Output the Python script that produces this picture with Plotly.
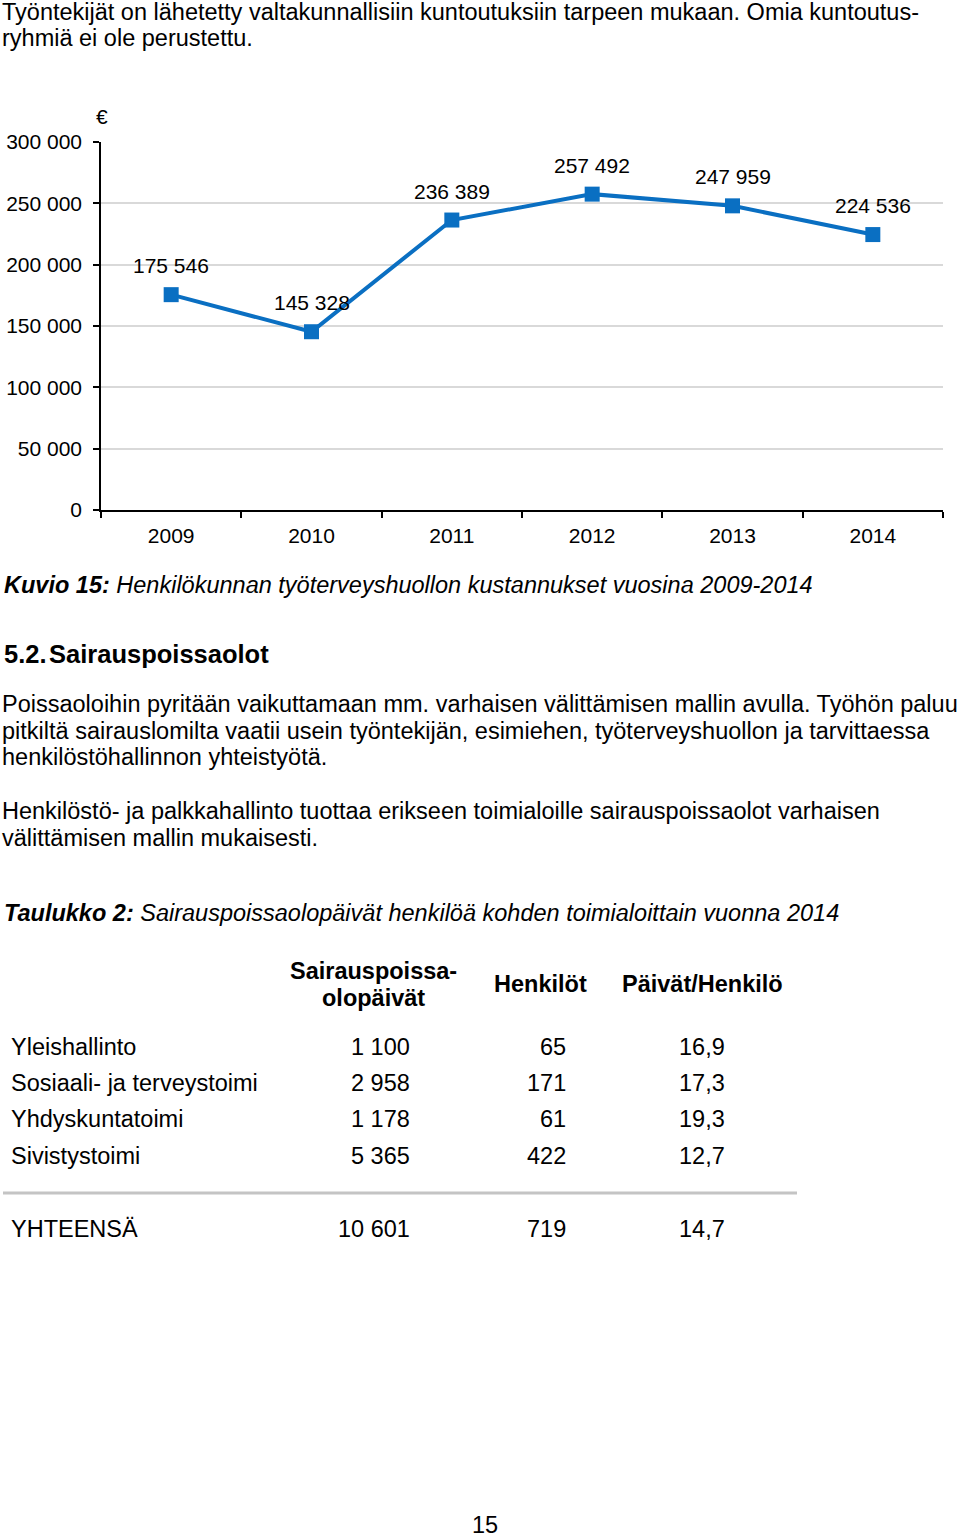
import plotly.graph_objects as go

# ---- data ----
years = ["2009", "2010", "2011", "2012", "2013", "2014"]
costs = [175546, 145328, 236389, 257492, 247959, 224536]
cost_labels = ["175 546", "145 328", "236 389", "257 492", "247 959", "224 536"]

table_rows = ["Yleishallinto", "Sosiaali- ja terveystoimi", "Yhdyskuntatoimi", "Sivistystoimi"]
table_days = ["1 100", "2 958", "1 178", "5 365"]
table_persons = ["65", "171", "61", "422"]
table_ratio = ["16,9", "17,3", "19,3", "12,7"]
total_label = "YHTEENSÄ"
total_days = "10 601"
total_persons = "719"
total_ratio = "14,7"

W, H = 960, 1538
FONT = "Liberation Sans, Arial, sans-serif"
BLUE = "#0a6fc2"
BODY = 23.5
CH = 21


def px(x, y):
    return x / W, 1 - y / H


fig = go.Figure()
fig.add_trace(go.Scatter(
    x=years, y=costs, mode="lines+markers",
    line=dict(color=BLUE, width=4),
    marker=dict(symbol="square", size=15, color=BLUE),
    hoverinfo="skip", showlegend=False,
))

annotations = []
for i, (v, lab) in enumerate(zip(costs, cost_labels)):
    annotations.append(dict(x=i, y=v, xref="x", yref="y", text=lab, showarrow=False,
                            yshift=29, font=dict(size=CH, color="black", family=FONT)))


def text(x, y, s, size=BODY, anchor="left", bold=False, italic=False):
    fx, fy = px(x, y)
    if bold:
        s = "<b>" + s + "</b>"
    if italic:
        s = "<i>" + s + "</i>"
    annotations.append(dict(x=fx, y=fy, xref="paper", yref="paper", text=s, showarrow=False,
                            xanchor=anchor, yanchor="middle",
                            font=dict(size=size, color="black", family=FONT)))


text(0, 12, "Työntekijät on lähetetty valtakunnallisiin kuntoutuksiin tarpeen mukaan. Omia kuntoutus-")
text(0, 38, "ryhmiä ei ole perustettu.")
text(94, 117, "€", size=CH)

text(2, 585, "<b>Kuvio 15:</b> Henkilökunnan työterveyshuollon kustannukset vuosina 2009-2014", italic=True)
text(2, 654, "5.2.", size=25.5, bold=True)
text(47, 654, "Sairauspoissaolot", size=25.5, bold=True)

text(0, 704, "Poissaoloihin pyritään vaikuttamaan mm. varhaisen välittämisen mallin avulla. Työhön paluu")
text(0, 731, "pitkiltä sairauslomilta vaatii usein työntekijän, esimiehen, työterveyshuollon ja tarvittaessa")
text(0, 757, "henkilöstöhallinnon yhteistyötä.")
text(0, 811, "Henkilöstö- ja palkkahallinto tuottaa erikseen toimialoille sairauspoissaolot varhaisen")
text(0, 838, "välittämisen mallin mukaisesti.")

text(2, 913, "<b>Taulukko 2:</b> Sairauspoissaolopäivät henkilöä kohden toimialoittain vuonna 2014", italic=True)

text(373, 971, "Sairauspoissa-", bold=True, anchor="center")
text(373, 998, "olopäivät", bold=True, anchor="center")
text(540, 984, "Henkilöt", bold=True, anchor="center")
text(702, 984, "Päivät/Henkilö", bold=True, anchor="center")

row_y = [1047, 1083, 1119, 1156]
for ry, name, d, p, r in zip(row_y, table_rows, table_days, table_persons, table_ratio):
    text(9, ry, name)
    text(412, ry, d, anchor="right")
    text(568, ry, p, anchor="right")
    text(727, ry, r, anchor="right")

text(9, 1229, total_label)
text(412, 1229, total_days, anchor="right")
text(568, 1229, total_persons, anchor="right")
text(727, 1229, total_ratio, anchor="right")

text(485, 1525, "15", anchor="center")

x0, y0 = px(3, 1193)
x1, _ = px(797, 1193)
shapes = [dict(type="line", xref="paper", yref="paper", x0=x0, x1=x1, y0=y0, y1=y0,
               line=dict(color="#c4c4c4", width=3))]

dx0, dy_top = px(101, 142)
dx1, dy_bot = px(943, 510)

fig.update_layout(
    width=W, height=H,
    margin=dict(l=0, r=0, t=0, b=0, pad=0, autoexpand=False),
    paper_bgcolor="white", plot_bgcolor="white",
    separators=", ",
    annotations=annotations,
    shapes=shapes,
    font=dict(family=FONT, color="black", size=BODY),
    xaxis=dict(
        domain=[dx0, dx1], type="category", tickson="boundaries",
        range=[-0.5, 5.5], autorange=False, automargin=False,
        ticks="outside", ticklen=6, tickcolor="black", tickwidth=1.5,
        showline=True, linecolor="black", linewidth=1.5,
        showgrid=False, zeroline=False, fixedrange=True, tickangle=0,
        tickfont=dict(size=CH, family=FONT, color="black"),
        ticklabelstandoff=6,
    ),
    yaxis=dict(
        domain=[dy_bot, dy_top], range=[0, 300000], autorange=False, automargin=False,
        dtick=50000,
        tickformat=",d", ticks="outside", ticklen=6, tickcolor="black", tickwidth=1.5,
        showline=True, linecolor="black", linewidth=1.5,
        showgrid=True, gridcolor="#d9d9d9", gridwidth=1.5,
        zeroline=False, fixedrange=True,
        tickfont=dict(size=CH, family=FONT, color="black"),
        ticklabelstandoff=7,
    ),
)

fig.write_html("out.html", config={"displayModeBar": False},
               post_script="document.body.style.margin='0px';")
